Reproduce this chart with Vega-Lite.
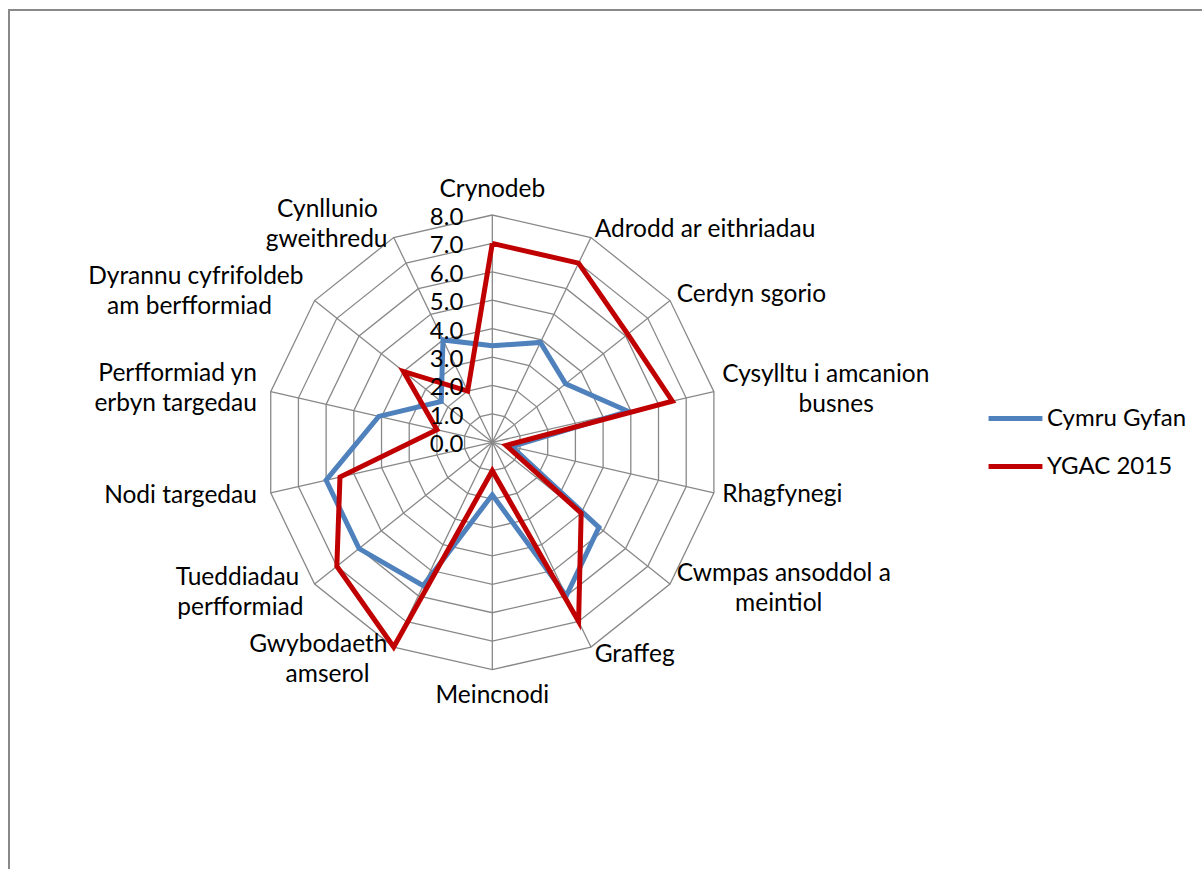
{
  "$schema": "https://vega.github.io/schema/vega-lite/v6.json",
  "width": 1198,
  "height": 864,
  "autosize": {"type": "none"},
  "padding": {"left": 9, "top": 10, "right": -5, "bottom": -5},
  "background": "white",
  "config": {"view": {"stroke": "#898989", "strokeWidth": 2}, "font": "Lato"},
  "datasets": {
    "cats": [
      {"i": 0, "category": "Crynodeb", "lines": ["Crynodeb"], "Cymru Gyfan": 3.4, "YGAC 2015": 7.0},
      {"i": 1, "category": "Adrodd ar eithriadau", "lines": ["Adrodd ar eithriadau"], "Cymru Gyfan": 3.9, "YGAC 2015": 7.0},
      {"i": 2, "category": "Cerdyn sgorio", "lines": ["Cerdyn sgorio"], "Cymru Gyfan": 3.3, "YGAC 2015": 6.1},
      {"i": 3, "category": "Cysylltu i amcanion busnes", "lines": ["Cysylltu i amcanion", "busnes"], "Cymru Gyfan": 4.9, "YGAC 2015": 6.5},
      {"i": 4, "category": "Rhagfynegi", "lines": ["Rhagfynegi"], "Cymru Gyfan": 0.7, "YGAC 2015": 0.5},
      {"i": 5, "category": "Cwmpas ansoddol a meintiol", "lines": ["Cwmpas ansoddol a", "meintiol"], "Cymru Gyfan": 4.8, "YGAC 2015": 4.0},
      {"i": 6, "category": "Graffeg", "lines": ["Graffeg"], "Cymru Gyfan": 6.0, "YGAC 2015": 7.0},
      {"i": 7, "category": "Meincnodi", "lines": ["Meincnodi"], "Cymru Gyfan": 1.85, "YGAC 2015": 1.0},
      {"i": 8, "category": "Gwybodaeth amserol", "lines": ["Gwybodaeth", "amserol"], "Cymru Gyfan": 5.6, "YGAC 2015": 8.0},
      {"i": 9, "category": "Tueddiadau perfformiad", "lines": ["Tueddiadau", "perfformiad"], "Cymru Gyfan": 6.0, "YGAC 2015": 7.0},
      {"i": 10, "category": "Nodi targedau", "lines": ["Nodi targedau"], "Cymru Gyfan": 6.0, "YGAC 2015": 5.5},
      {"i": 11, "category": "Perfformiad yn erbyn targedau", "lines": ["Perfformiad yn", "erbyn targedau"], "Cymru Gyfan": 4.1, "YGAC 2015": 2.0},
      {"i": 12, "category": "Dyrannu cyfrifoldeb am berfformiad", "lines": ["Dyrannu cyfrifoldeb", "am berfformiad"], "Cymru Gyfan": 2.3, "YGAC 2015": 4.0},
      {"i": 13, "category": "Cynllunio gweithredu", "lines": ["Cynllunio", "gweithredu"], "Cymru Gyfan": 4.0, "YGAC 2015": 2.0}
    ],
    "ticks": [
      {"v": 0}, {"v": 1}, {"v": 2}, {"v": 3}, {"v": 4}, {"v": 5}, {"v": 6}, {"v": 7}, {"v": 8}
    ]
  },
  "layer": [
    {
      "data": {"name": "cats"},
      "transform": [
        {"calculate": "datum.i == 0 ? [0, 14] : [datum.i]", "as": "k"},
        {"flatten": ["k"]},
        {"calculate": "[1, 2, 3, 4, 5, 6, 7, 8]", "as": "ring"},
        {"flatten": ["ring"]},
        {"calculate": "datum.k * 2 * PI / 14", "as": "a"},
        {"calculate": "datum.ring * sin(datum.a)", "as": "gx"},
        {"calculate": "datum.ring * cos(datum.a)", "as": "gy"}
      ],
      "mark": {"type": "line", "color": "#888888", "strokeWidth": 1.3},
      "encoding": {
        "x": {"field": "gx", "type": "quantitative", "scale": {"domain": [-17.012, 25.156], "zero": false, "nice": false}, "axis": null},
        "y": {"field": "gy", "type": "quantitative", "scale": {"domain": [-15.196, 15.216], "zero": false, "nice": false}, "axis": null},
        "detail": {"field": "ring", "type": "nominal"},
        "order": {"field": "k", "type": "quantitative"}
      }
    },
    {
      "data": {"name": "cats"},
      "transform": [
        {"calculate": "datum.i * 2 * PI / 14", "as": "a"},
        {"calculate": "0", "as": "z"},
        {"calculate": "8 * sin(datum.a)", "as": "sx"},
        {"calculate": "8 * cos(datum.a)", "as": "sy"}
      ],
      "mark": {"type": "rule", "color": "#888888", "strokeWidth": 1.3},
      "encoding": {
        "x": {"field": "z", "type": "quantitative"},
        "y": {"field": "z", "type": "quantitative"},
        "x2": {"field": "sx"},
        "y2": {"field": "sy"}
      }
    },
    {
      "data": {"name": "cats"},
      "transform": [
        {"fold": ["Cymru Gyfan", "YGAC 2015"], "as": ["series", "value"]},
        {"calculate": "datum.i == 0 ? [0, 14] : [datum.i]", "as": "k"},
        {"flatten": ["k"]},
        {"calculate": "datum.k * 2 * PI / 14", "as": "a"},
        {"calculate": "datum.value * sin(datum.a)", "as": "px"},
        {"calculate": "datum.value * cos(datum.a)", "as": "py"}
      ],
      "mark": {"type": "line", "strokeWidth": 5, "strokeJoin": "miter"},
      "encoding": {
        "x": {"field": "px", "type": "quantitative"},
        "y": {"field": "py", "type": "quantitative"},
        "color": {
          "field": "series", "type": "nominal",
          "scale": {"domain": ["Cymru Gyfan", "YGAC 2015"], "range": ["#4F81BD", "#C00000"]},
          "legend": {
            "orient": "none", "legendX": 977, "legendY": 379, "title": null,
            "symbolType": "stroke", "symbolStrokeWidth": 5, "symbolSize": 2900,
            "labelFontSize": 24, "labelFont": "Lato", "labelColor": "black",
            "labelOffset": 2, "rowPadding": 6, "padding": 0
          }
        },
        "order": {"field": "k", "type": "quantitative"}
      }
    },
    {
      "data": {"name": "ticks"},
      "transform": [{"calculate": "0", "as": "z"}],
      "mark": {"type": "text", "align": "right", "baseline": "middle", "dx": -29, "dy": 3, "fontSize": 24, "font": "Lato", "color": "black"},
      "encoding": {
        "x": {"field": "z", "type": "quantitative"},
        "y": {"field": "v", "type": "quantitative"},
        "text": {"field": "v", "type": "quantitative", "format": ".1f"}
      }
    },
    {
      "data": {"name": "cats"},
      "transform": [
        {"calculate": "length(datum.lines)", "as": "nl"},
        {"calculate": "max(length(datum.lines[0]), datum.nl > 1 ? length(datum.lines[1]) : 0)", "as": "maxlen"},
        {"flatten": ["lines"], "as": ["line"]},
        {"window": [{"op": "row_number", "as": "ln"}], "groupby": ["i"]},
        {"calculate": "datum.i * 2 * PI / 14", "as": "a"},
        {"calculate": "datum.i == 0 || datum.i == 7 ? 0 : (datum.i < 7 ? 1 : -1)", "as": "side"},
        {"calculate": "datum.side == 1 ? 8.3 : (datum.side == -1 ? 8.5 : (datum.i == 0 ? 8.63 : 9.18))", "as": "R"},
        {"calculate": "length(datum.line) == datum.maxlen || datum.side == 0", "as": "isLong"},
        {"calculate": "datum.R * sin(datum.a) + (datum.isLong ? 0 : datum.side * datum.maxlen * 0.4224 / 2)", "as": "lx"},
        {"calculate": "datum.R * cos(datum.a) + (datum.nl > 1 ? (datum.ln == 1 ? 0.528 : -0.528) : 0)", "as": "ly"}
      ],
      "mark": {
        "type": "text", "fontSize": 24.5, "font": "Lato", "color": "black",
        "align": {"expr": "datum.side == 0 || !datum.isLong ? 'center' : (datum.side == 1 ? 'left' : 'right')"},
        "baseline": {"expr": "datum.side == 0 ? 'alphabetic' : 'middle'"}
      },
      "encoding": {
        "x": {"field": "lx", "type": "quantitative"},
        "y": {"field": "ly", "type": "quantitative"},
        "text": {"field": "line", "type": "nominal"}
      }
    }
  ]
}
